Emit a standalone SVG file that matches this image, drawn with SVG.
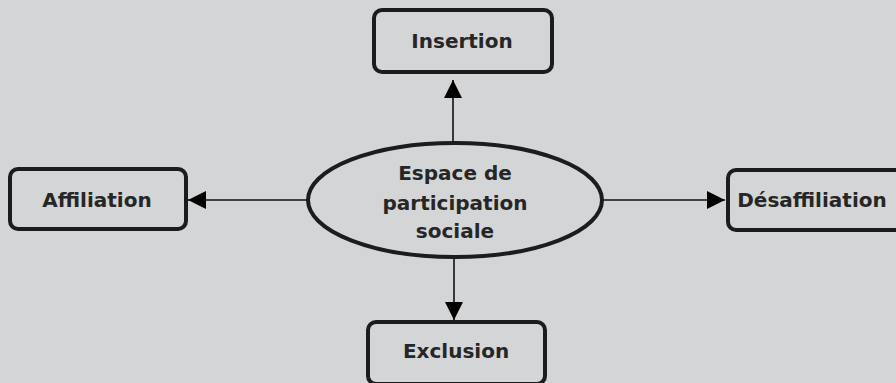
<svg xmlns="http://www.w3.org/2000/svg" width="896" height="383" viewBox="0 0 896 383">
<defs>
<style>
.box{fill:#d4d5d6;stroke:#1c1c1c;stroke-width:4}
.lbl{font-family:"DejaVu Sans","Liberation Sans",sans-serif;font-weight:bold;font-size:20px;fill:#262626;text-anchor:middle}
.conn{stroke:#111;stroke-width:1.6;fill:none}
</style>
<marker id="ah" viewBox="0 0 10 10" refX="10" refY="5" markerWidth="18" markerHeight="18" markerUnits="userSpaceOnUse" orient="auto">
<path d="M0,0 L10,5 L0,10 Z" fill="#000"/>
</marker>
</defs>
<rect width="896" height="383" fill="#d4d5d6"/>
<g id="connectors">
<line class="conn" x1="453" y1="143" x2="453" y2="80" marker-end="url(#ah)"/>
<line class="conn" x1="307" y1="200" x2="188" y2="200" marker-end="url(#ah)"/>
<line class="conn" x1="603" y1="200" x2="725" y2="200" marker-end="url(#ah)"/>
<line class="conn" x1="454" y1="257" x2="454" y2="320" marker-end="url(#ah)"/>
</g>
<g id="center">
<ellipse class="box" cx="455" cy="200" rx="147" ry="57"/>
<text class="lbl" x="455" y="180">Espace de</text>
<text class="lbl" x="455" y="210">participation</text>
<text class="lbl" x="455" y="238">sociale</text>
</g>
<g id="insertion">
<rect class="box" x="374" y="10" width="178" height="62" rx="8"/>
<text class="lbl" x="462" y="48">Insertion</text>
</g>
<g id="affiliation">
<rect class="box" x="10" y="169" width="176" height="60" rx="8"/>
<text class="lbl" x="97" y="207">Affiliation</text>
</g>
<g id="desaffiliation">
<rect class="box" x="728" y="170" width="190" height="60" rx="8"/>
<text class="lbl" x="812" y="207">Désaffiliation</text>
</g>
<g id="exclusion">
<rect class="box" x="368" y="322" width="177" height="62" rx="8"/>
<text class="lbl" x="456" y="358">Exclusion</text>
</g>
</svg>
